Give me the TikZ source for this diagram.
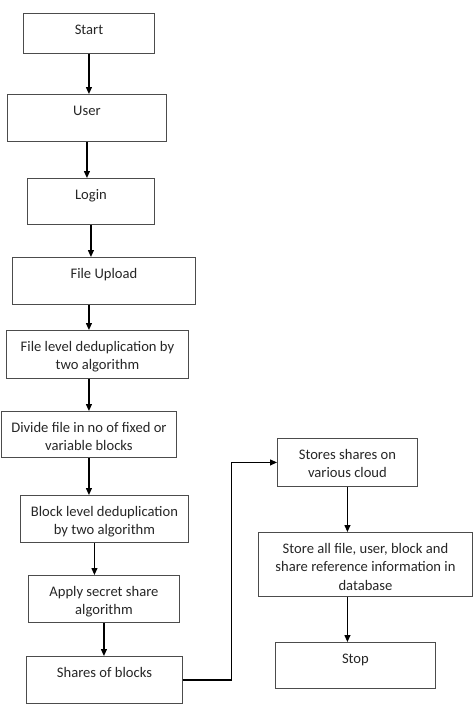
\documentclass[tikz,border=0pt]{standalone}
\usepackage{fontspec}
\setmainfont{Carlito}
\usetikzlibrary{arrows.meta}
\newcommand{\steptext}[3]{\parbox[c][#2][t]{#1}{\centering\rule{0pt}{21pt}#3}}
\tikzset{
  stepbox/.style={draw=black!70, line width=0.9pt, anchor=north west, inner sep=0pt, text=black!85, font=\fontsize{14.6}{18.5}\selectfont},
  flow/.style={->, line width=1.1pt}
}
\begin{document}
\begin{tikzpicture}[x=1pt,y=-1pt,>={Triangle[length=7pt,width=6pt]}]
\useasboundingbox (0,0) rectangle (474,710);
% left column
\node[stepbox] (start) at (23,13) {\steptext{131pt}{40pt}{Start}};
\node[stepbox] (user) at (7,94) {\steptext{159pt}{47pt}{User}};
\node[stepbox] (login) at (27,178) {\steptext{127pt}{46pt}{Login}};
\node[stepbox] (fileup) at (12,257) {\steptext{183pt}{47pt}{File Upload}};
\node[stepbox] (filelev) at (6,330) {\steptext{182pt}{48pt}{File level deduplication by\\ two algorithm}};
\node[stepbox] (divide) at (1,411) {\steptext{175pt}{46pt}{Divide file in no of fixed or\\ variable blocks}};
\node[stepbox] (blocklev) at (20,495) {\steptext{168pt}{47pt}{Block level deduplication\\ by two algorithm}};
\node[stepbox] (apply) at (28,575) {\steptext{151pt}{47pt}{Apply secret share\\ algorithm}};
\node[stepbox] (shares) at (26,656) {\steptext{156pt}{47pt}{Shares of blocks}};
% right column
\node[stepbox] (stores) at (277,438) {\steptext{140pt}{48pt}{Stores shares on\\ various cloud}};
\node[stepbox] (storeall) at (258,532) {\steptext{214pt}{64pt}{Store all file, user, block and\\ share reference information in\\ database}};
\node[stepbox] (stop) at (275,642) {\steptext{160pt}{46pt}{Stop}};
% connectors
\draw[flow] (start.south) -- (start.south |- user.north);
\draw[flow] (user.south) -- (user.south |- login.north);
\draw[flow] (login.south) -- (login.south |- fileup.north);
\draw[flow] (divide.north |- fileup.south) -- (divide.north |- filelev.north);
\draw[flow] (divide.north |- filelev.south) -- (divide.north);
\draw[flow] (divide.south) -- (divide.south |- blocklev.north);
\draw[flow] ([xshift=-10pt]blocklev.south) -- ([xshift=-10pt]blocklev.south |- apply.north);
\draw[flow] (apply.south) -- (apply.south |- shares.north);
\draw[flow] (shares.east) -- ++(49,0) |- (stores.west);
\draw[flow] (stores.south) -- (stores.south |- storeall.north);
\draw[flow] (stores.south |- storeall.south) -- (stores.south |- stop.north);
\end{tikzpicture}
\end{document}
